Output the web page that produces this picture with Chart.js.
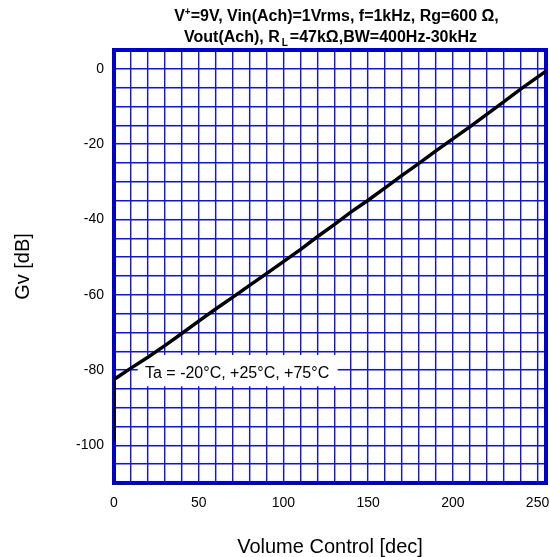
<!DOCTYPE html>
<html>
<head>
<meta charset="utf-8">
<script src="https://cdn.jsdelivr.net/npm/chart.js@4/dist/chart.umd.min.js"></script>
<style>
  html, body { margin: 0; padding: 0; background: #fff; }
  #wrap { position: relative; width: 550px; height: 557px; }
  #title {
    position: absolute; left: 114px; width: 433px; top: 5px; text-align: center;
    font: bold 16px "Liberation Sans", Arial, sans-serif; line-height: 21px; color: #000;
  }
  #title .l1 { position: relative; left: 6px; }
  #title sup, #title sub { font-size: 10px; line-height: 0; }
  #title sub { margin: 0 2px; }
</style>
</head>
<body>
<div id="wrap">
  <canvas id="chart" width="550" height="557"></canvas>
  <div id="title">
    <div class="l1">V<sup>+</sup>=9V, Vin(Ach)=1Vrms, f=1kHz, Rg=600 Ω,</div>
    <div>Vout(Ach), R<sub>L</sub>=47kΩ,BW=400Hz-30kHz</div>
  </div>
</div>
<script>
// volume step vs gain
const volumeSteps = [0, 0, 10, 20, 30, 40, 50, 60, 70, 80, 90, 100, 110, 120, 130,
  140, 150, 160, 170, 180, 190, 200, 210, 220, 230, 240, 250, 255];
const gainDb = [-99, -82.5, -79.5, -76.6, -73.5, -70.3, -67.0, -63.8, -60.7, -57.5, -54.4,
  -51.2, -48.0, -44.6, -41.4, -38.0, -34.9, -31.6, -28.3, -25.1, -21.8, -18.6, -15.4,
  -12.1, -8.8, -5.4, -2.2, -0.6];

const xLabelTicks = [0, 50, 100, 150, 200, 250];
const yLabelTicks = [0, -20, -40, -60, -80, -100];
const noteText = 'Ta = -20°C, +25°C, +75°C';

const FONT = '"Liberation Sans", Arial, sans-serif';
const GRID = '#1010f4';
const FRAME = '#0000cc';

// white label box + frame around plot area
const framePlugin = {
    id: 'frame',
    beforeDatasetsDraw(chart) {
        const { ctx, chartArea: a, scales: { x, y } } = chart;
        ctx.save();
        // note box
        const bx0 = x.getPixelForValue(14), bx1 = x.getPixelForValue(132);
        const by0 = y.getPixelForValue(-76), by1 = y.getPixelForValue(-84.3);
        ctx.fillStyle = '#fff';
        ctx.fillRect(bx0, by0, bx1 - bx0, by1 - by0);
        ctx.fillStyle = '#000';
        ctx.font = '16px ' + FONT;
        ctx.textBaseline = 'middle';
        ctx.fillText(noteText, x.getPixelForValue(18.3), y.getPixelForValue(-81));
        // plot frame
        ctx.strokeStyle = FRAME;
        ctx.lineWidth = 4;
        ctx.strokeRect(a.left, a.top, a.right - a.left, a.bottom - a.top);
        ctx.restore();
    }
};

new Chart(document.getElementById('chart'), {
    type: 'scatter',
    data: {
        datasets: [{
            data: volumeSteps.map((v, i) => ({ x: v, y: gainDb[i] })),
            showLine: true,
            borderColor: '#000',
            borderWidth: 3.5,
            pointRadius: 0,
            tension: 0
        }]
    },
    options: {
        responsive: false,
        animation: false,
        layout: { padding: { top: 50, right: 4, left: 0, bottom: 0 } },
        plugins: { legend: { display: false }, tooltip: { enabled: false } },
        scales: {
            x: {
                type: 'linear',
                min: 0, max: 255,
                afterFit: s => { s.height = 74; s.paddingLeft = 0; s.paddingRight = 0; },
                grid: { color: GRID, lineWidth: 1.4, drawTicks: false },
                border: { display: false },
                ticks: {
                    stepSize: 10,
                    includeBounds: false,
                    padding: 12,
                    color: '#000',
                    font: { family: FONT, size: 14 },
                    maxRotation: 0,
                    autoSkip: false,
                    callback: v => xLabelTicks.includes(v) ? String(v) : ''
                },
                title: {
                    display: true,
                    text: 'Volume Control [dec]',
                    color: '#000',
                    font: { family: FONT, size: 20, lineHeight: 1 },
                    padding: { top: 0, bottom: 0 }
                }
            },
            y: {
                min: -110, max: 5,
                afterFit: s => { s.width = 114; s.paddingTop = 0; s.paddingBottom = 0; },
                grid: { color: GRID, lineWidth: 1.4, drawTicks: false },
                border: { display: false },
                ticks: {
                    stepSize: 5,
                    padding: 10,
                    color: '#000',
                    font: { family: FONT, size: 14 },
                    autoSkip: false,
                    callback: v => yLabelTicks.includes(v) ? String(v) : ''
                },
                title: {
                    display: true,
                    text: 'Gv [dB]',
                    color: '#000',
                    font: { family: FONT, size: 20, lineHeight: 1 },
                    padding: { top: 13, bottom: 0 }
                }
            }
        }
    },
    plugins: [framePlugin]
});
</script>
</body>
</html>
